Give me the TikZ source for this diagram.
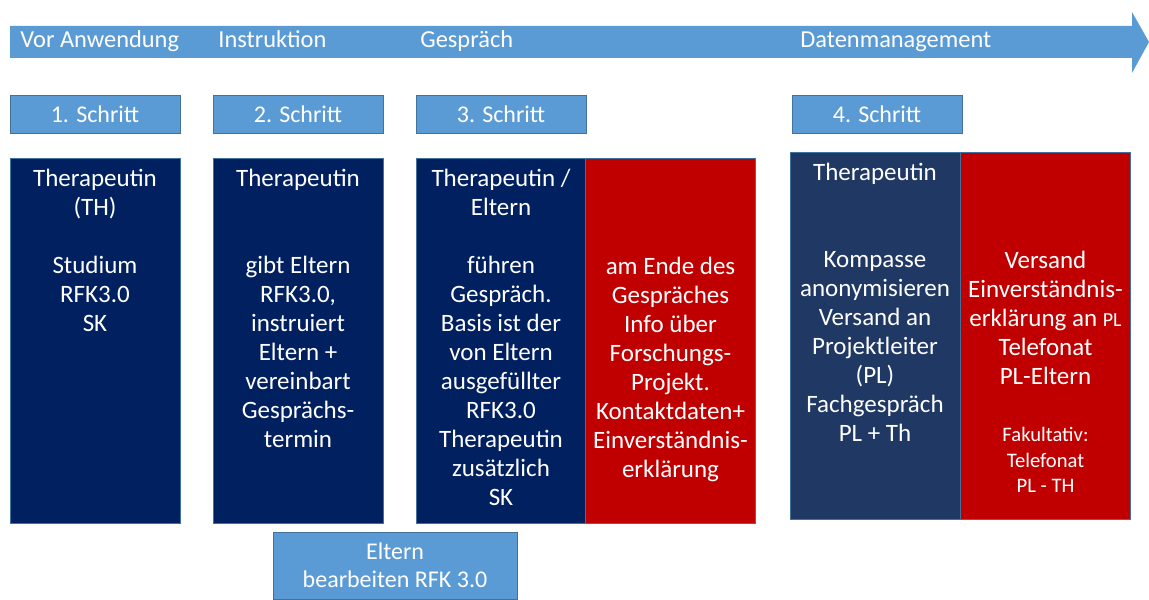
\documentclass[tikz,border=0pt]{standalone}
\usepackage{fontspec}
\setmainfont{Carlito}
\definecolor{hellblau}{RGB}{91,155,213}
\definecolor{randblau}{RGB}{65,113,156}
\definecolor{dunkelblau}{RGB}{0,32,96}
\definecolor{schieferblau}{RGB}{32,56,100}
\definecolor{rot}{RGB}{192,0,0}

\begin{document}
\begin{tikzpicture}[x=0.5pt,y=-0.5pt,
	schritt/.style={rectangle,fill=hellblau,draw=randblau,line width=0.4pt,minimum width=85pt,minimum height=19pt,inner sep=0pt,text=white,font=\fontsize{12}{14.5}\selectfont},
	spalte/.style={rectangle,draw=randblau,line width=0.4pt,minimum width=85pt,minimum height=182.5pt,inner sep=0pt},
	txt/.style={align=center,text=white,inner sep=0pt,anchor=north,font=\fontsize{12.5}{14.5}\selectfont},
	klein/.style={align=center,text=white,inner sep=0pt,anchor=north,font=\fontsize{10.3}{12.8}\selectfont},
	kopf/.style={text=white,inner sep=0pt,anchor=base west,font=\fontsize{12.2}{14}\selectfont}]

\useasboundingbox (0,0) rectangle (1149,599);

\fill[hellblau] (10,26) -- (1132,26) -- (1132,12) -- (1149,42) -- (1132,73) -- (1132,58) -- (10,58) -- cycle;

\node[kopf] (k1) at (20,48)  {Vor Anwendung};
\node[kopf] (k2) at (218,48) {Instruktion};
\node[kopf] (k3) at (420,48) {Gespräch};
\node[kopf] (k4) at (800,48) {Datenmanagement};

\node[schritt] (s1) at (95,114)  {1. Schritt};
\node[schritt] (s2) at (298,114) {2. Schritt};
\node[schritt] (s3) at (501,114) {3. Schritt};
\node[schritt] (s4) at (877,114) {4. Schritt};

\node[spalte,fill=dunkelblau] (c1)  at (95,340.5)    {};
\node[spalte,fill=dunkelblau] (c2)  at (298,340.5)   {};
\node[spalte,fill=dunkelblau] (c3)  at (501,340.5)   {};
\node[spalte,fill=rot]        (c3r) at (670.5,340.5) {};
\node[spalte,fill=schieferblau,minimum height=183.5pt] (c4)  at (875,335.5)    {};
\node[spalte,fill=rot,minimum height=183.5pt]          (c4r) at (1045.5,335.5) {};

\node[txt] (t1)  at (95,169)    {Therapeutin\\(TH)\\[14.5pt]Studium\\RFK3.0\\SK};
\node[txt] (t2)  at (298,169)   {Therapeutin\\[29pt]gibt Eltern\\RFK3.0,\\instruiert\\Eltern +\\vereinbart\\Gesprächs-\\termin};
\node[txt] (t3)  at (501,169)   {Therapeutin /\\Eltern\\[14.5pt]führen\\Gespräch.\\Basis ist der\\von Eltern\\ausgefüllter\\RFK3.0\\Therapeutin\\zusätzlich\\SK};
\node[txt] (t3r) at (670.5,257) {am Ende des\\Gespräches\\Info über\\Forschungs-\\Projekt.\\Kontaktdaten+\\Einverständnis-\\erklärung};
\node[txt] (t4)  at (875,163)   {Therapeutin\\[29pt]Kompasse\\anonymisieren\\Versand an\\Projektleiter\\(PL)\\Fachgespräch\\PL + Th};
\node[txt] (t4r) at (1045.5,251) {Versand\\Einverständnis-\\erklärung an {\fontsize{10}{12}\selectfont PL}\\Telefonat\\PL-Eltern};
\node[klein] (f4r) at (1045.5,427) {Fakultativ:\\Telefonat\\PL - TH};

\node[schritt,align=center,minimum width=122pt,minimum height=33.5pt,font=\fontsize{12}{14}\selectfont] (el) at (395,565.5) {Eltern\\bearbeiten RFK 3.0};

\end{tikzpicture}
\end{document}
